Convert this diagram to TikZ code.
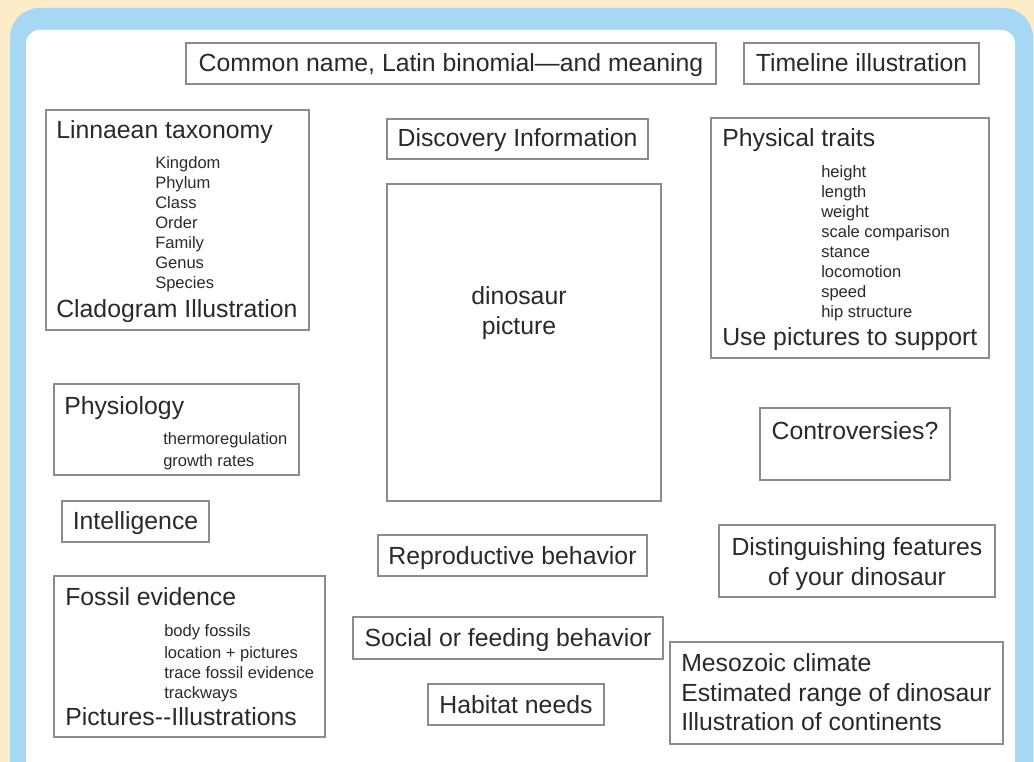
\documentclass[tikz,border=0pt]{standalone}
\usepackage{fontspec}
\setmainfont{Liberation Sans}
\usetikzlibrary{fit,positioning}
\definecolor{cream}{RGB}{253,236,199}
\definecolor{skyblue}{RGB}{166,216,243}
\definecolor{boxgray}{RGB}{140,140,140}
\definecolor{inkgray}{RGB}{42,42,42}

\begin{document}
\begin{tikzpicture}[x=0.75pt, y=-0.75pt,
    box/.style={draw=boxgray, line width=0.8pt, inner sep=0pt, fit={#1}},
    big/.style={font=\fontsize{18.6}{22}\selectfont, text=inkgray, inner sep=0pt, anchor=base west},
    small/.style={font=\fontsize{12.4}{15}\selectfont, text=inkgray, inner sep=0pt, anchor=base west}]
    % page and frame
    \useasboundingbox (0, 0) rectangle (1034, 762);
    \clip (0, 0) rectangle (1034, 762);
    \fill[cream] (0, 0) rectangle (1034, 762);
    \fill[skyblue, rounded corners=22] (10, 8) rectangle (1033, 800);
    \fill[white, rounded corners=10] (26, 30) rectangle (1015, 800);

    % top row
    \node[box={(186, 43) (716, 84)}] (commonbox) {};
    \node[big, anchor=base] (common) at (451, 72) {Common name, Latin binomial---and meaning};
    \node[box={(744, 43) (979, 84)}] (timelinebox) {};
    \node[big, anchor=base] (timeline) at (861.5, 72) {Timeline illustration};

    % taxonomy
    \node[box={(46, 110) (309, 330)}] (taxobox) {};
    \node[big] (taxo) at (56, 139) {Linnaean taxonomy};
    \foreach \rank [count=\i from 0] in {Kingdom, Phylum, Class, Order, Family, Genus, Species}
        \node[small] (rank\i) at (155, 169 + 20*\i) {\rank};
    \node[big] (clado) at (56, 318) {Cladogram Illustration};

    % middle column
    \node[box={(387, 119) (648, 159)}] (discbox) {};
    \node[big, anchor=base] (disc) at (517.5, 147) {Discovery Information};
    \node[box={(387, 184) (661, 501)}] (picbox) {};
    \node[big, anchor=base] (pic1) at (519, 305) {dinosaur};
    \node[big, anchor=base] (pic2) at (519, 335) {picture};
    \node[box={(378, 535) (647, 576)}] (reprobox) {};
    \node[big, anchor=base] (repro) at (512.5, 564) {Reproductive behavior};
    \node[box={(353, 617) (663, 659)}] (socialbox) {};
    \node[big, anchor=base] (social) at (508, 646) {Social or feeding behavior};
    \node[box={(428, 684) (604, 725)}] (habitatbox) {};
    \node[big, anchor=base] (habitat) at (516, 713) {Habitat needs};

    % physical traits
    \node[box={(711, 118) (989, 358)}] (physbox) {};
    \node[big] (phys) at (722, 147) {Physical traits};
    \foreach \trait [count=\i from 0] in {height, length, weight, scale comparison, stance, locomotion, speed, hip structure}
        \node[small] (trait\i) at (821, 178 + 20*\i) {\trait};
    \node[big] (support) at (722, 346) {Use pictures to support};

    % physiology and intelligence
    \node[box={(54, 384) (299, 475)}] (physiobox) {};
    \node[big] (physio) at (64, 414) {Physiology};
    \node[small] (thermo) at (163, 444) {thermoregulation};
    \node[small] (growth) at (163, 466) {growth rates};
    \node[box={(62, 501) (209, 542)}] (intelbox) {};
    \node[big, anchor=base] (intel) at (135.5, 529) {Intelligence};

    % fossils
    \node[box={(54, 576) (325, 737)}] (fossilbox) {};
    \node[big] (fossil) at (65, 605) {Fossil evidence};
    \node[small] (body) at (164, 636) {body fossils};
    \node[small] (location) at (164, 658) {location + pictures};
    \node[small] (trace) at (164, 678) {trace fossil evidence};
    \node[small] (track) at (164, 698) {trackways};
    \node[big] (illus) at (65, 725) {Pictures-{}-Illustrations};

    % right column
    \node[box={(760, 408) (950, 480)}] (controbox) {};
    \node[big, anchor=base] (contro) at (855, 439) {Controversies?};
    \node[box={(719, 525) (995, 597)}] (distbox) {};
    \node[big, anchor=base] (dist1) at (857, 555) {Distinguishing features};
    \node[big, anchor=base] (dist2) at (857, 585) {of your dinosaur};
    \node[box={(670, 642) (1003, 744)}] (mesobox) {};
    \node[big] (meso1) at (681, 671) {Mesozoic climate};
    \node[big] (meso2) at (681, 701) {Estimated range of dinosaur};
    \node[big] (meso3) at (681, 730) {Illustration of continents};
\end{tikzpicture}
\end{document}
